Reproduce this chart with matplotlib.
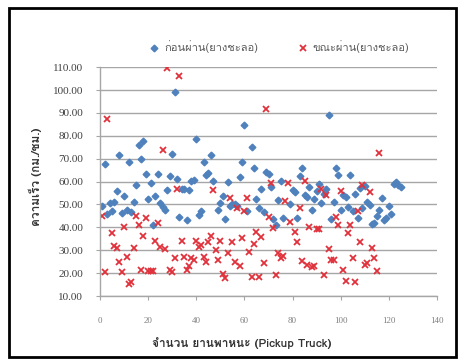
import matplotlib
matplotlib.use("Agg")
import matplotlib.pyplot as plt
from matplotlib import font_manager
from matplotlib.ft2font import FT2Font
from matplotlib.patches import Rectangle

# speed before the speed bump (blue) and while crossing it (red)
before_x = list(range(1, 48)) + list(range(49, 62)) + list(range(63, 77)) + list(range(79, 126))
before_y = [49.5, 67.5, 45.8, 50.5, 47.0, 51.0, 56.0, 71.8, 46.4, 53.5,
            47.8, 68.4, 46.8, 51.0, 58.3, 76.0, 69.8, 77.6, 63.5, 52.5,
            59.5, 41.1, 53.7, 63.3, 50.5, 49.0, 47.6, 56.3, 62.4, 72.0,
            99.2, 61.0, 44.5, 56.6, 56.8, 43.2, 56.5, 60.2, 60.5, 78.6,
            45.4, 47.1, 68.7, 62.8, 63.8, 71.6, 60.2,
            47.7, 50.5, 53.6, 43.6, 60.0, 49.5, 50.0, 50.0, 49.5, 62.0,
            68.7, 84.8, 47.0,
            75.0, 65.8, 52.5, 48.5, 56.6, 46.8, 64.0, 63.3, 57.5, 43.6,
            41.0, 51.9, 60.4, 44.3,
            50.0, 56.3, 55.6, 43.9, 62.4, 65.8, 54.0, 53.4, 57.5, 47.6,
            52.2, 56.0, 58.9, 50.5, 54.5, 56.7, 89.0, 43.6, 51.0, 65.8,
            62.8, 47.6, 54.0, 53.4, 48.8, 62.8, 47.0, 54.4, 44.2, 57.3,
            48.6, 58.0, 51.0, 49.7, 41.3, 42.0, 45.0, 47.4, 53.0, 43.0,
            44.0, 49.5, 46.0, 59.0, 60.0, 58.5, 57.5]

during_x = [1, 2, 3] + list(range(5, 80)) + list(range(81, 117))
during_y = [45.0, 20.3, 87.3,
            37.4, 32.0, 30.8, 24.7, 20.3, 40.3, 27.2, 15.2, 16.3, 30.9,
            45.0, 41.0, 21.4, 36.2, 44.0, 21.0, 21.0, 21.0, 34.0, 41.7,
            31.5, 73.6, 30.5, 109.8, 21.4, 20.3, 26.7, 56.9, 106.0, 34.1,
            27.2, 21.4, 23.2, 26.7, 25.7, 34.1, 31.5, 32.5, 27.2, 24.7,
            33.7, 36.3, 56.3, 30.0, 25.7, 34.1, 19.6, 17.7, 28.6, 53.0,
            33.7, 24.7, 48.3, 23.2, 35.2, 47.0, 53.0, 29.2, 18.5, 32.6,
            38.1, 18.5, 35.9, 24.3, 91.6, 44.5, 59.2, 39.6, 19.2, 28.6,
            26.5, 27.5, 51.3, 59.2, 42.2,
            38.1, 33.4, 48.3, 25.4, 60.2, 23.5, 40.3, 22.5, 23.0, 39.2,
            39.1, 56.6, 19.2, 54.1, 30.4, 25.7, 25.7, 44.6, 41.0, 55.8,
            21.4, 16.7, 37.7, 41.2, 26.5, 16.0, 47.1, 33.4, 58.5, 23.5,
            24.3, 55.6, 30.8, 26.7, 21.0, 72.7]

label_before = "ก่อนผ่าน(ยางชะลอ)"
label_during = "ขณะผ่าน(ยางชะลอ)"
x_title = "จำนวน ยานพาหนะ (Pickup Truck)"
y_title = "ความเร็ว (กม./ชม.)"


def thai_family():
    # first installed family that actually has Thai glyphs
    for f in font_manager.fontManager.ttflist:
        try:
            if 0x0E01 in FT2Font(f.fname).get_charmap():
                return f.name
        except Exception:
            pass
    return "DejaVu Sans"


thai = [thai_family(), "Liberation Serif", "DejaVu Sans"]

fig = plt.figure(figsize=(4.62, 3.61), dpi=100)
ax = fig.add_axes([0.2165, 0.180, 0.7294, 0.634])

ax.plot(before_x, before_y, linestyle="none", marker="D", markersize=3.4,
        color="#4F81BD", label=label_before)
ax.plot(during_x, during_y, linestyle="none", marker="x", markersize=4.2,
        markeredgewidth=1.3, color="#E0323C", label=label_during)

ax.set_xlim(0, 140)
ax.set_ylim(10, 110)
ax.set_xticks(range(0, 141, 20))
ax.set_yticks(range(10, 111, 10))
ax.set_yticklabels(["%.2f" % v for v in range(10, 111, 10)])

ax.grid(axis="y", color="#A6A6A6", linewidth=1.0)
ax.set_axisbelow(True)
for s in ["top", "right"]:
    ax.spines[s].set_visible(False)
for s in ["left", "bottom"]:
    ax.spines[s].set_color("#A6A6A6")
    ax.spines[s].set_linewidth(1.0)

ax.tick_params(axis="y", length=3, color="#A6A6A6", pad=9, labelsize=8,
               labelcolor="#404040")
ax.tick_params(axis="x", length=3, color="#A6A6A6", pad=12, labelsize=6.5,
               labelcolor="#808080")
for t in ax.get_xticklabels() + ax.get_yticklabels():
    t.set_fontfamily("Liberation Serif")

fig.text(242 / 462, 1 - 343 / 361, x_title, ha="center", va="center",
         fontsize=8.5, fontweight="bold", family=thai, color="#333333")
fig.text(35 / 462, 1 - 177 / 361, y_title, ha="center", va="center",
         rotation=90, fontsize=8.5, fontweight="bold", family=thai,
         color="#333333")

leg = ax.legend(loc="center", bbox_to_anchor=(279 / 462, 1 - 47 / 361),
                bbox_transform=fig.transFigure, ncol=2, frameon=False,
                handletextpad=0.4, columnspacing=3.5, handlelength=1.0,
                borderpad=0.2, prop={"family": thai, "size": 8})
for t in leg.get_texts():
    t.set_color("#595959")

# outer frame of the chart
fig.patches.append(Rectangle((9 / 462, 4 / 361), 447 / 462, 349 / 361,
                             transform=fig.transFigure, fill=False,
                             edgecolor="black", linewidth=2.0))

fig.savefig("out.png", dpi=100)
